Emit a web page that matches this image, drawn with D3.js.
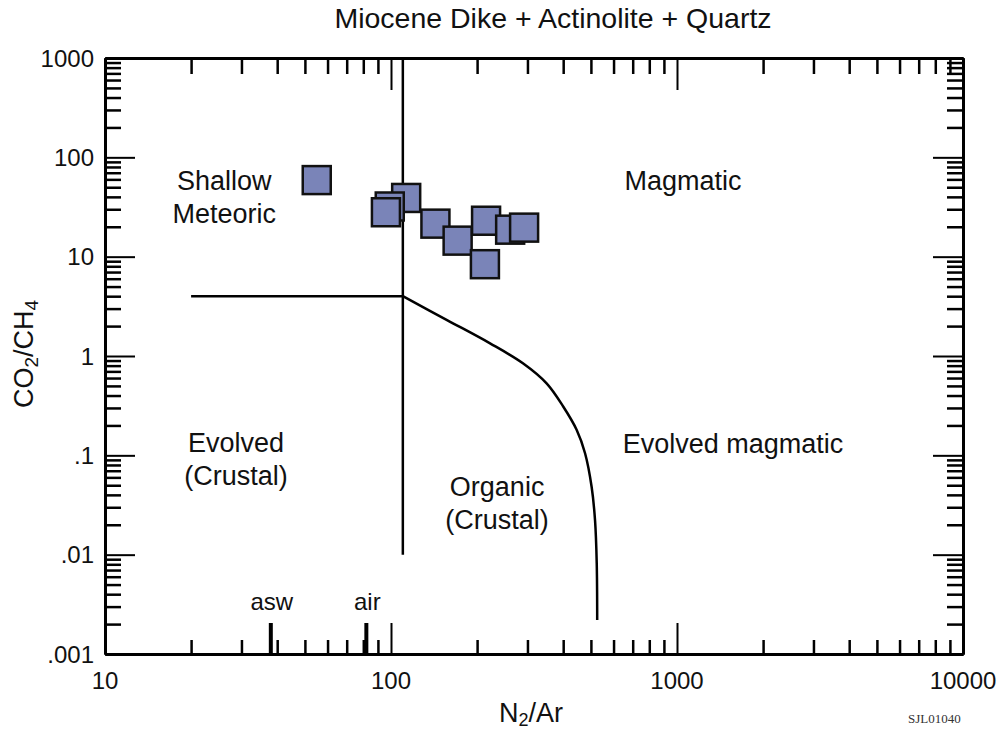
<!DOCTYPE html>
<html>
<head>
<meta charset="utf-8">
<script src="https://cdn.jsdelivr.net/npm/d3@7"></script>
<style>
  html, body { margin: 0; padding: 0; background: #fff; }
  svg { display: block; font-family: "Liberation Sans", Arial, Helvetica, sans-serif; }
</style>
</head>
<body>
<svg id="chart" width="1003" height="731"></svg>
<script>
// ---- data ----
const sampleN2Ar   = [55, 113, 99, 96, 143, 171, 215, 213, 261, 292];
const sampleCO2CH4 = [59, 39, 32, 28, 21.5, 14.5, 23, 8.4, 18.7, 19.6];

const boundaryVertN2Ar = [110, 110];
const boundaryVertCO2CH4 = [1000, 0.01];
const boundaryHorzN2Ar = [20, 110];
const boundaryHorzCO2CH4 = [4, 4];
const curveN2Ar   = [110, 157, 222, 290, 350, 400, 446, 477, 503, 517, 524, 526];
const curveCO2CH4 = [4, 2.3, 1.34, 0.84, 0.53, 0.31, 0.18, 0.105, 0.048, 0.022, 0.0082, 0.0022];

const refNames = ["asw", "air"];
const refN2Ar  = [38, 82];

const xMajorTicks = [10, 100, 1000, 10000];
const xTickLabels = ["10", "100", "1000", "10000"];
const yMajorTicks = [0.001, 0.01, 0.1, 1, 10, 100, 1000];
const yTickLabels = [".001", ".01", ".1", "1", "10", "100", "1000"];

// label anchor: centre of text, baseline of first line (in data units)
const regionNames = [["Shallow", "Meteoric"], ["Magmatic"], ["Evolved", "(Crustal)"], ["Evolved magmatic"], ["Organic", "(Crustal)"]];
const regionN2Ar   = [26.1, 1050, 28.7, 1570, 235];
const regionCO2CH4 = [46.9, 46.9, 0.108, 0.1056, 0.039];

// ---- layout ----
const svg = d3.select("#chart");
const L = 105, R = 963, T = 58, B = 654;
const x = d3.scaleLog().domain([10, 10000]).range([L, R]);
const y = d3.scaleLog().domain([0.001, 1000]).range([B, T]);

function minorTicks(scale) {
  return scale.ticks().filter(v => {
    const e = Math.log10(v);
    return Math.abs(e - Math.round(e)) > 1e-6;
  });
}
const xMinor = minorTicks(x);
const yMinor = minorTicks(y);

function styleAxis(g, w) {
  g.selectAll(".domain").attr("stroke", "#000").attr("stroke-width", 3);
  g.selectAll(".tick line").attr("stroke", "#000").attr("stroke-width", w);
  g.selectAll(".tick text").remove();
}

// minor ticks on all four sides
svg.append("g").attr("transform", `translate(0,${B})`)
  .call(d3.axisBottom(x).tickValues(xMinor).tickSizeInner(-14).tickSizeOuter(0))
  .call(g => styleAxis(g, 2.5));
svg.append("g").attr("transform", `translate(0,${T})`)
  .call(d3.axisTop(x).tickValues(xMinor).tickSizeInner(-16).tickSizeOuter(0))
  .call(g => styleAxis(g, 2.5));
svg.append("g").attr("transform", `translate(${L},0)`)
  .call(d3.axisLeft(y).tickValues(yMinor).tickSizeInner(-16).tickSizeOuter(0))
  .call(g => styleAxis(g, 2.5));
svg.append("g").attr("transform", `translate(${R},0)`)
  .call(d3.axisRight(y).tickValues(yMinor).tickSizeInner(-16).tickSizeOuter(0))
  .call(g => styleAxis(g, 2.5));

// major ticks
svg.append("g").attr("transform", `translate(0,${B})`)
  .call(d3.axisBottom(x).tickValues(xMajorTicks).tickSizeInner(-31).tickSizeOuter(0))
  .call(g => styleAxis(g, 2));
svg.append("g").attr("transform", `translate(0,${T})`)
  .call(d3.axisTop(x).tickValues(xMajorTicks).tickSizeInner(-32).tickSizeOuter(0))
  .call(g => styleAxis(g, 2));
svg.append("g").attr("transform", `translate(${L},0)`)
  .call(d3.axisLeft(y).tickValues(yMajorTicks).tickSizeInner(-30).tickSizeOuter(0))
  .call(g => styleAxis(g, 2));
svg.append("g").attr("transform", `translate(${R},0)`)
  .call(d3.axisRight(y).tickValues(yMajorTicks).tickSizeInner(-30).tickSizeOuter(0))
  .call(g => styleAxis(g, 2));

// tick labels
svg.append("g").selectAll("text").data(xMajorTicks).join("text")
  .attr("x", d => x(d)).attr("y", 689)
  .attr("text-anchor", "middle").attr("font-size", 24).attr("fill", "#111")
  .text((d, i) => xTickLabels[i]);
svg.append("g").selectAll("text").data(yMajorTicks).join("text")
  .attr("x", 94).attr("y", d => y(d) + 8.5)
  .attr("text-anchor", "end").attr("font-size", 24).attr("fill", "#111")
  .text((d, i) => yTickLabels[i]);

// reference markers (asw, air)
svg.append("g").selectAll("line").data(refN2Ar).join("line")
  .attr("x1", d => x(d)).attr("x2", d => x(d))
  .attr("y1", B).attr("y2", B - 31)
  .attr("stroke", "#000").attr("stroke-width", 4);
svg.append("g").selectAll("text").data(refN2Ar).join("text")
  .attr("x", d => x(d) + 1).attr("y", 610)
  .attr("text-anchor", "middle").attr("font-size", 24).attr("fill", "#111")
  .text((d, i) => refNames[i]);

// boundary lines
const line = d3.line().x(d => x(d[0])).y(d => y(d[1]));
function addPath(xs, ys, curve) {
  svg.append("path")
    .attr("d", line.curve(curve || d3.curveLinear)(xs.map((v, i) => [v, ys[i]])))
    .attr("stroke", "#000").attr("stroke-width", 2.5).attr("fill", "none");
}
addPath(boundaryVertN2Ar, boundaryVertCO2CH4);
addPath(boundaryHorzN2Ar, boundaryHorzCO2CH4);
addPath(curveN2Ar, curveCO2CH4, d3.curveCatmullRom.alpha(0.5));

// region labels
regionNames.forEach((lines, k) => {
  const t = svg.append("text")
    .attr("text-anchor", "middle").attr("font-size", 27).attr("fill", "#111");
  const cx = x(regionN2Ar[k]), cy = y(regionCO2CH4[k]);
  lines.forEach((s, i) => {
    t.append("tspan").attr("x", cx).attr("y", cy + i * 33).text(s);
  });
});

// sample squares
const S = 28;
svg.append("g").selectAll("rect").data(sampleN2Ar).join("rect")
  .attr("x", d => x(d) - S / 2)
  .attr("y", (d, i) => y(sampleCO2CH4[i]) - S / 2)
  .attr("width", S).attr("height", S)
  .attr("fill", "#7a84b8").attr("stroke", "#111").attr("stroke-width", 2.5);

// title
svg.append("text").attr("x", 553).attr("y", 28)
  .attr("text-anchor", "middle").attr("font-size", 28.5).attr("fill", "#111")
  .text("Miocene Dike + Actinolite + Quartz");

// x-axis title N2/Ar
const xt = svg.append("text").attr("x", 531).attr("y", 722)
  .attr("text-anchor", "middle").attr("font-size", 27).attr("fill", "#111");
xt.append("tspan").text("N");
xt.append("tspan").attr("font-size", 18).attr("dy", 4).text("2");
xt.append("tspan").attr("dy", -4).text("/Ar");

// y-axis title CO2/CH4
const yt = svg.append("text")
  .attr("transform", "translate(33,354) rotate(-90)")
  .attr("text-anchor", "middle").attr("font-size", 27).attr("fill", "#111");
yt.append("tspan").text("CO");
yt.append("tspan").attr("font-size", 19).attr("dy", 5).text("2");
yt.append("tspan").attr("dy", -5).text("/CH");
yt.append("tspan").attr("font-size", 19).attr("dy", 5).text("4");

// figure id
svg.append("text").attr("x", 908).attr("y", 723)
  .attr("font-family", "'Liberation Serif', 'Times New Roman', serif")
  .attr("font-size", 13).attr("fill", "#333")
  .text("SJL01040");
</script>
</body>
</html>
